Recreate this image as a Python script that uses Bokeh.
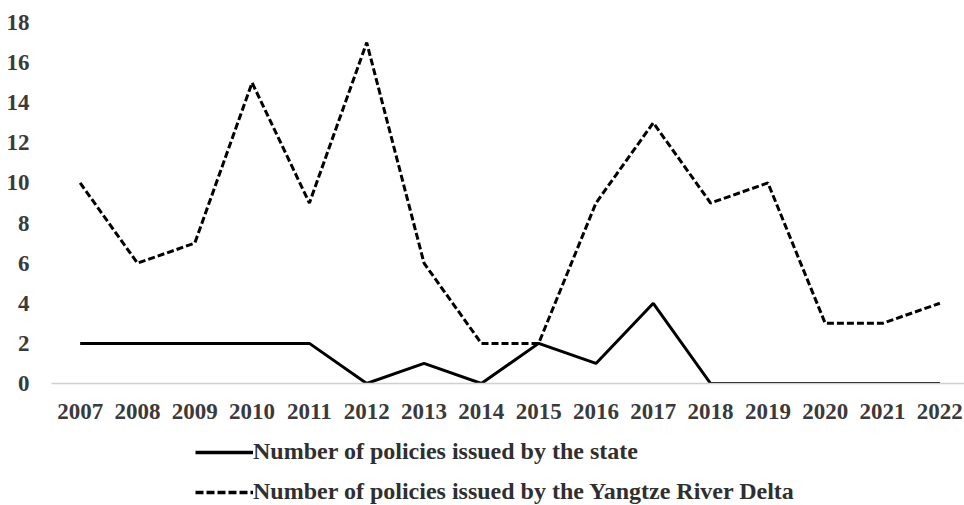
from bokeh.plotting import figure
from bokeh.layouts import column
from bokeh.models import Range1d, FixedTicker, Legend, LegendItem
from bokeh.embed import file_html
from bokeh.resources import INLINE

years = list(range(2007, 2023))
state = [2, 2, 2, 2, 2, 0, 1, 0, 2, 1, 4, 0, 0, 0, 0, 0]
yrd = [10, 6, 7, 15, 9, 17, 6, 2, 2, 9, 13, 9, 10, 3, 3, 4]
y_ticks = [0, 2, 4, 6, 8, 10, 12, 14, 16, 18]
state_label = "Number of policies issued by the state"
yrd_label = "Number of policies issued by the Yangtze River Delta"

FONT = "Liberation Serif"
DASH = "7 3"

p = figure(width=964, height=430, output_backend="svg", toolbar_location=None,
           x_range=Range1d(2006.5, 2022.43), y_range=Range1d(0, 18.3),
           min_border_left=51, min_border_right=0, min_border_top=16, min_border_bottom=47)
p.outline_line_color = None
p.background_fill_color = "white"
p.border_fill_color = "white"
p.xgrid.grid_line_color = None
p.ygrid.grid_line_color = None

p.xaxis.ticker = FixedTicker(ticks=years)
p.yaxis.ticker = FixedTicker(ticks=y_ticks)
for ax in (p.xaxis[0], p.yaxis[0]):
    ax.major_tick_line_color = None
    ax.minor_tick_line_color = None
    ax.major_label_text_font = FONT
    ax.major_label_text_font_style = "bold"
    ax.major_label_text_font_size = "23px"
    ax.major_label_text_color = "#3a3a3a"
p.yaxis.axis_line_color = None
p.xaxis.axis_line_color = "#d0d0d0"
p.xaxis.axis_line_width = 1.5
p.yaxis.major_label_standoff = 16
p.xaxis.major_label_standoff = 14

p.line(years, state, line_color="black", line_width=3)
p.line(years, yrd, line_color="black", line_width=3, line_dash=DASH)

# legend panel: same series, out of its (empty) view, used only for the legend keys
q = figure(width=964, height=75, output_backend="svg", toolbar_location=None,
           x_range=Range1d(0, 1), y_range=Range1d(0, 1),
           x_axis_location=None, y_axis_location=None,
           min_border_left=0, min_border_right=0, min_border_top=0, min_border_bottom=0)
q.outline_line_color = None
q.xgrid.grid_line_color = None
q.ygrid.grid_line_color = None
q.border_fill_color = "white"
l1 = q.line(years, state, line_color="black", line_width=3.5)
l2 = q.line(years, yrd, line_color="black", line_width=3.5, line_dash="8 3")

legend = Legend(items=[LegendItem(label=state_label, renderers=[l1]),
                       LegendItem(label=yrd_label, renderers=[l2])],
                location=(144, 0), orientation="vertical")
legend.label_text_font = FONT
legend.label_text_font_style = "bold"
legend.label_text_font_size = "24px"
legend.label_text_color = "#2f2f2f"
legend.glyph_width = 58
legend.glyph_height = 24
legend.label_height = 24
legend.label_standoff = 0
legend.spacing = 13
legend.padding = 0
legend.margin = 0
legend.border_line_color = None
legend.background_fill_alpha = 0
q.add_layout(legend, "center")

layout = column(p, q, spacing=0)
open("out.html", "w").write(file_html(layout, INLINE))
